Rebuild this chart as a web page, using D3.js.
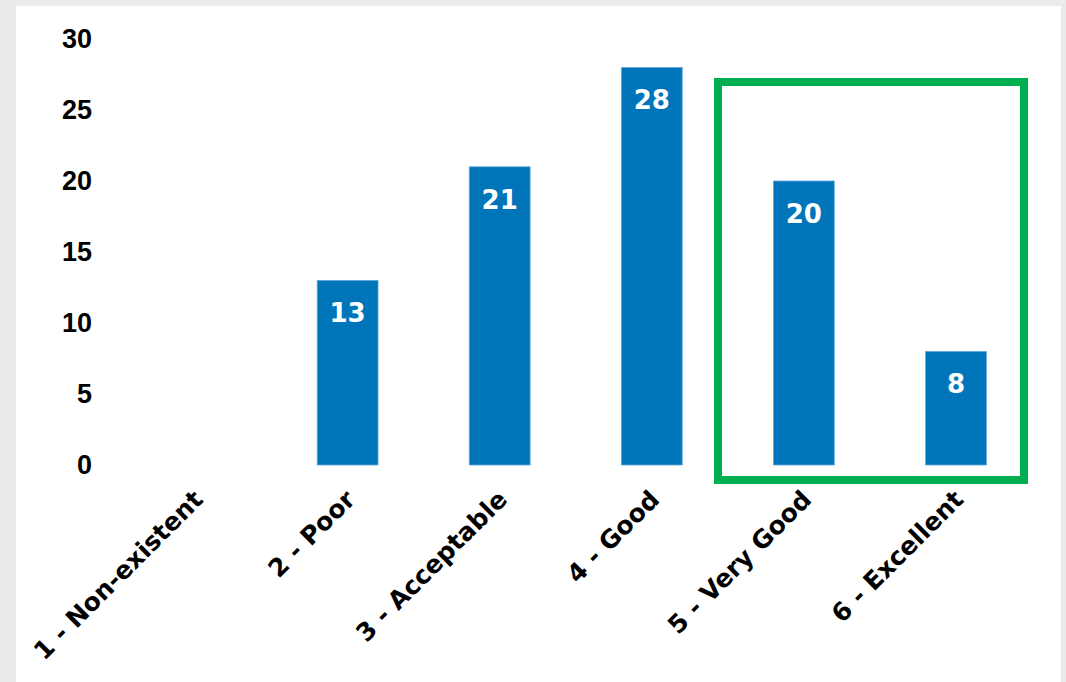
<!DOCTYPE html>
<html><head><meta charset="utf-8">
<script src="https://cdn.jsdelivr.net/npm/d3@7"></script>
<style>
html,body{margin:0;padding:0;background:#ebebeb;}
svg{display:block;}
</style></head>
<body>
<svg id="chart" width="1066" height="682"></svg>
<script>
const categories = ["1 - Non-existent","2 - Poor","3 - Acceptable","4 - Good","5 - Very Good","6 - Excellent"];
const values = [0,13,21,28,20,8];
const yTicks = [0,5,10,15,20,25,30];
const highlighted = ["5 - Very Good","6 - Excellent"];

const svg = d3.select("#chart");
svg.append("rect").attr("x",16).attr("y",6).attr("width",1045).attr("height",676).attr("fill","#ffffff");

const x = d3.scaleBand().domain(categories).range([119.5,1032]).paddingInner(0.6).paddingOuter(0.3);
const y = d3.scaleLinear().domain([0,30]).range([465,39]);

// y axis labels
const yAxis = d3.axisLeft(y).tickValues(yTicks).tickSize(0).tickPadding(0);
const gy = svg.append("g").attr("transform","translate(92,0)").call(yAxis);
gy.select(".domain").remove();
gy.selectAll("text").attr("font-family","'Liberation Sans',Arial,sans-serif").attr("font-weight","bold").attr("font-size","27px").attr("fill","#000");

// bars
svg.selectAll("rect.bar").data(values.map((v,i)=>({c:categories[i],v}))).enter()
  .filter(d=>d.v>0)
  .append("rect").attr("class","bar")
  .attr("x",d=>x(d.c)).attr("width",x.bandwidth())
  .attr("y",d=>y(d.v)).attr("height",d=>y(0)-y(d.v))
  .attr("fill","#0175BA").attr("stroke","#5fa8dc").attr("stroke-width",0.8);

// value labels
svg.selectAll("text.val").data(values.map((v,i)=>({c:categories[i],v}))).enter()
  .filter(d=>d.v>0)
  .append("text").attr("class","val")
  .attr("x",d=>x(d.c)+x.bandwidth()/2).attr("y",d=>y(d.v)+42)
  .attr("text-anchor","middle")
  .attr("font-family","'DejaVu Sans',sans-serif").attr("font-weight","bold").attr("font-size","26px")
  .attr("fill","#fff").text(d=>d.v);

// category labels
const xAxis = d3.axisBottom(x).tickSize(0).tickPadding(0);
const gx = svg.append("g").attr("transform","translate(0,465)").call(xAxis);
gx.select(".domain").remove();
gx.selectAll("text")
  .attr("text-anchor","end")
  .attr("dy","0")
  .attr("transform","translate(9,36) rotate(-45)")
  .attr("font-family","'DejaVu Sans',sans-serif").attr("font-weight","bold").attr("font-size","25px")
  .attr("fill","#000");

// highlight box
svg.append("rect").attr("x",718).attr("y",82).attr("width",1024-718).attr("height",480-82)
  .attr("fill","none").attr("stroke","#00B050").attr("stroke-width",8);
</script>
</body></html>
